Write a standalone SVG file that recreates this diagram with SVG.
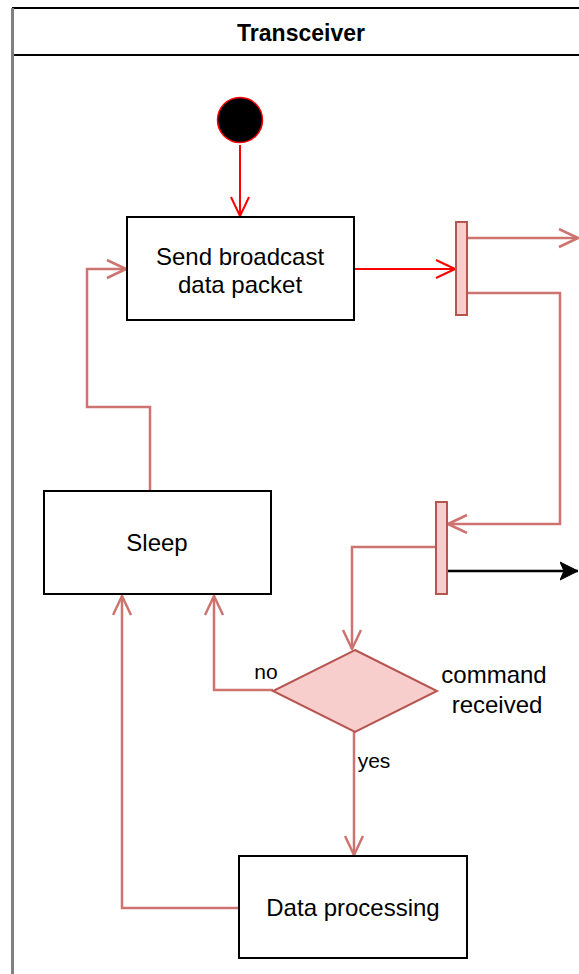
<svg xmlns="http://www.w3.org/2000/svg" width="579" height="974" viewBox="0 0 579 974">
  <style>
    .box { fill: #ffffff; stroke: #000000; stroke-width: 2; }
    .bar { fill: #f8cecc; stroke: #b85450; stroke-width: 2; }
    .lbl { font-family: "Liberation Sans", Arial, sans-serif; font-size: 24px; fill: #000000; text-anchor: middle; }
    .small { font-size: 21px; }
    .title { font-weight: bold; font-size: 23px; }
    .red { fill: none; stroke: #ff0000; stroke-width: 2; }
    .pink { fill: none; stroke: #cd7471; stroke-width: 2.5; }
    .blk { fill: none; stroke: #000000; stroke-width: 2.5; }
  </style>
  <defs>
    <marker id="openRed" markerUnits="userSpaceOnUse" markerWidth="24" markerHeight="24" refX="20" refY="10" orient="auto">
      <path d="M1,1 L20,10 L1,19" fill="none" stroke="#ff0000" stroke-width="2" stroke-linejoin="round"/>
    </marker>
    <marker id="openPink" markerUnits="userSpaceOnUse" markerWidth="24" markerHeight="24" refX="20" refY="10" orient="auto">
      <path d="M1,1 L20,10 L1,19" fill="none" stroke="#cd7471" stroke-width="2.5" stroke-linejoin="round"/>
    </marker>
    <marker id="blockBlack" markerUnits="userSpaceOnUse" markerWidth="24" markerHeight="24" refX="18" refY="10" orient="auto">
      <path d="M0,1 L18,10 L0,19 L4,10 Z" fill="#000000" stroke="#000000" stroke-width="1" stroke-linejoin="round"/>
    </marker>
  </defs>

  <!-- swimlane pool -->
  <g id="pool">
    <rect x="12" y="8" width="580" height="980" fill="#ffffff" stroke="none"/>
    <line x1="12" y1="8" x2="579" y2="8" stroke="#000000" stroke-width="2"/>
    <line x1="12" y1="55" x2="579" y2="55" stroke="#000000" stroke-width="2"/>
    <line x1="12.5" y1="8" x2="12.5" y2="974" stroke="#808080" stroke-width="3"/>
    <text class="lbl title" x="301" y="41">Transceiver</text>
  </g>

  <!-- connectors -->
  <g id="connectors">
    <path class="red" d="M240,145 L240,216" marker-end="url(#openRed)"/>
    <path class="red" d="M354,269 L455,269" marker-end="url(#openRed)"/>
    <path class="pink" d="M467,238 L578,238" marker-end="url(#openPink)"/>
    <path class="pink" d="M467,293 L560,293 L560,524 L448,524" marker-end="url(#openPink)"/>
    <path class="blk" d="M447,571 L578,571" marker-end="url(#blockBlack)"/>
    <path class="pink" d="M436,547 L352,547 L352,649" marker-end="url(#openPink)"/>
    <path class="pink" d="M273,690 L214,690 L214,596" marker-end="url(#openPink)"/>
    <path class="pink" d="M354,732 L354,855" marker-end="url(#openPink)"/>
    <path class="pink" d="M239,908 L122,908 L122,596" marker-end="url(#openPink)"/>
    <path class="pink" d="M150,491 L150,407 L87,407 L87,269 L126,269" marker-end="url(#openPink)"/>
  </g>

  <!-- start node -->
  <g id="start">
    <circle cx="240" cy="120" r="22.5" fill="#000000" stroke="#ff0000" stroke-width="1.5"/>
  </g>

  <g id="sendBroadcast">
    <rect class="box" x="127" y="217" width="227" height="103"/>
    <text class="lbl" x="240" y="265">Send broadcast</text>
    <text class="lbl" x="240" y="293">data packet</text>
  </g>

  <g id="fork1">
    <rect class="bar" x="456" y="222" width="11" height="93"/>
  </g>

  <g id="fork2">
    <rect class="bar" x="436" y="502" width="11" height="92"/>
  </g>

  <g id="sleep">
    <rect class="box" x="44" y="491" width="227" height="103"/>
    <text class="lbl" x="157" y="551">Sleep</text>
  </g>

  <g id="commandReceived">
    <polygon class="bar" points="355,650 437,691 355,732 273,691"/>
    <text class="lbl" x="494" y="683">command</text>
    <text class="lbl" x="497" y="713">received</text>
  </g>

  <g id="dataProcessing">
    <rect class="box" x="239" y="856" width="228" height="102"/>
    <text class="lbl" x="353" y="916">Data processing</text>
  </g>

  <!-- branch labels -->
  <g id="branchLabels">
    <text class="lbl small" x="266" y="679">no</text>
    <text class="lbl small" x="374" y="768">yes</text>
  </g>
</svg>
